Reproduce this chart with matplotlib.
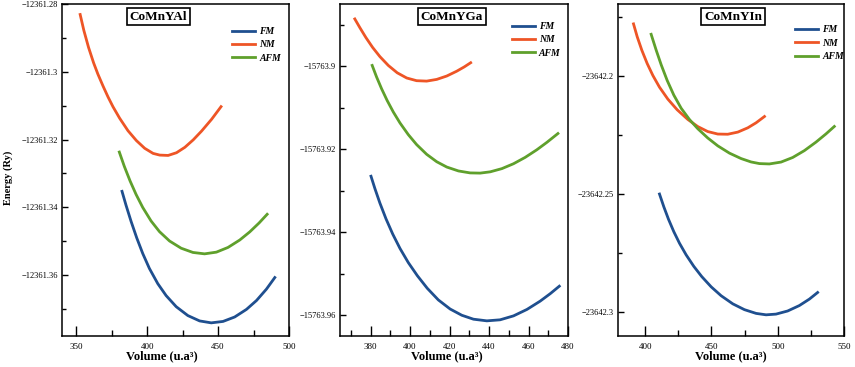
import matplotlib
matplotlib.use('Agg')
import matplotlib.pyplot as plt
from matplotlib.ticker import MultipleLocator, FuncFormatter

# colours of the three magnetic states
c_fm = '#1f4f8f'
c_nm = '#ee5526'
c_afm = '#5fa02c'

# ---- CoMnYAl ----
al_nm_v = [352.8, 355.4, 358.7, 362.3, 365.3, 368.9, 372.4, 375.9, 380.6, 386.5, 392.4, 398.3, 404.2,
           408.9, 414.8, 420.7, 426.6, 432.5, 438.4, 445.5, 452.1]
al_nm_e = [-12361.2831, -12361.2878, -12361.2928, -12361.2974, -12361.3007, -12361.3042, -12361.3074,
           -12361.3103, -12361.3137, -12361.3174, -12361.3203, -12361.3226, -12361.3241, -12361.3246,
           -12361.3247, -12361.3239, -12361.3223, -12361.3201, -12361.3175, -12361.3140, -12361.3103]
al_afm_v = [380.4, 383.9, 388.0, 392.2, 396.9, 402.8, 408.7, 415.8, 424.0, 432.3, 440.5, 448.8, 457.0,
            465.3, 472.3, 478.9, 484.6]
al_afm_e = [-12361.3237, -12361.3279, -12361.33225, -12361.3362, -12361.34005, -12361.34406, -12361.34719,
            -12361.34996, -12361.35209, -12361.35334, -12361.35375, -12361.35325, -12361.35186,
            -12361.34966, -12361.34728, -12361.34464, -12361.34207]
al_fm_v = [382.3, 385.1, 388.7, 392.7, 396.9, 401.6, 407.5, 413.4, 420.5, 428.7, 437.0, 445.2, 453.5,
           461.7, 470.0, 477.1, 484.1, 490.0]
al_fm_e = [-12361.3353, -12361.33936, -12361.34418, -12361.34906, -12361.35364, -12361.35806,
           -12361.36254, -12361.36608, -12361.36935, -12361.37197, -12361.37355, -12361.37412,
           -12361.3737, -12361.37239, -12361.37015, -12361.36752, -12361.36416, -12361.36074]

# ---- CoMnYGa ----
ga_nm_v = [372.0, 374.6, 377.6, 381.0, 384.7, 389.0, 393.5, 398.3, 403.3, 408.4, 413.5, 418.6, 423.6,
           427.4, 430.7]
ga_nm_e = [-15763.8886, -15763.89073, -15763.89307, -15763.89545, -15763.89767, -15763.89982,
           -15763.90158, -15763.90283, -15763.90348, -15763.90358, -15763.90317, -15763.90235,
           -15763.9012, -15763.90017, -15763.89915]
ga_afm_v = [380.8, 383.0, 385.6, 388.4, 391.5, 394.9, 399.1, 403.3, 408.4, 413.5, 418.6, 424.5, 430.4,
            435.5, 440.6, 446.5, 452.4, 458.3, 464.2, 469.3, 474.9]
ga_afm_e = [-15763.8998, -15763.90255, -15763.90546, -15763.90826, -15763.91102, -15763.91367,
            -15763.91648, -15763.91887, -15763.92122, -15763.92301, -15763.92429, -15763.92523,
            -15763.9257, -15763.92575, -15763.92544, -15763.92467, -15763.92349, -15763.92196,
            -15763.92013, -15763.91834, -15763.91621]
ga_fm_v = [380.2, 382.2, 384.7, 387.8, 391.2, 394.9, 399.1, 403.7, 408.7, 414.3, 420.3, 426.2, 432.1,
           438.9, 445.6, 452.4, 459.2, 465.9, 471.0, 475.6]
ga_fm_e = [-15763.9265, -15763.9295, -15763.93295, -15763.93676, -15763.94043, -15763.94391,
           -15763.94731, -15763.95048, -15763.9535, -15763.9563, -15763.9585, -15763.96, -15763.96095,
           -15763.96135, -15763.9611, -15763.96015, -15763.9586, -15763.9566, -15763.9548, -15763.953]

# ---- CoMnYIn ----
in_nm_v = [391.2, 394.0, 397.5, 401.5, 405.8, 410.8, 417.1, 424.1, 432.2, 439.7, 447.2, 454.8, 462.3,
           469.9, 477.4, 483.7, 490.0]
in_nm_e = [-23642.1781, -23642.18356, -23642.18927, -23642.19483, -23642.1999, -23642.20485,
           -23642.20989, -23642.21437, -23642.2185, -23642.2215, -23642.2236, -23642.22466,
           -23642.22474, -23642.22383, -23642.22203, -23642.21989, -23642.21724]
in_afm_v = [404.5, 408.3, 412.1, 416.6, 421.6, 427.2, 433.4, 439.7, 447.2, 454.8, 463.6, 472.4, 479.9,
            486.2, 493.7, 502.5, 511.3, 520.1, 528.9, 536.4, 542.7]
in_afm_e = [-23642.1825, -23642.18919, -23642.19542, -23642.20199, -23642.20819, -23642.21379,
            -23642.2185, -23642.22241, -23642.22631, -23642.22965, -23642.23273, -23642.23502,
            -23642.23645, -23642.23714, -23642.23729, -23642.2365, -23642.23456, -23642.23166,
            -23642.22805, -23642.2246, -23642.22145]
in_fm_v = [410.8, 414.1, 417.6, 421.6, 425.9, 430.9, 436.7, 442.7, 449.8, 457.3, 466.1, 474.9, 483.7,
           491.2, 498.7, 507.5, 516.3, 523.9, 530.1]
in_fm_e = [-23642.25, -23642.25545, -23642.26067, -23642.26591, -23642.27081, -23642.27571,
           -23642.28058, -23642.2849, -23642.28923, -23642.29298, -23642.29641, -23642.29887,
           -23642.30045, -23642.30105, -23642.30075, -23642.29943, -23642.29714, -23642.2944,
           -23642.29161]

panels = [
    dict(name='CoMnYAl', fm=(al_fm_v, al_fm_e), nm=(al_nm_v, al_nm_e), afm=(al_afm_v, al_afm_e),
         xlim=(340, 500), ylim=(-12361.378, -12361.28), xmaj=50, xmin=25, ymaj=0.02, ymin=0.01,
         pos=[62, 289], tx=0.425, leg=(0.749, 0.931), xl=0.44),
    dict(name='CoMnYGa', fm=(ga_fm_v, ga_fm_e), nm=(ga_nm_v, ga_nm_e), afm=(ga_afm_v, ga_afm_e),
         xlim=(364.5, 480), ylim=(-15763.965, -15763.885), xmaj=20, xmin=10, ymaj=0.02, ymin=0.01,
         pos=[340, 568], tx=0.49, leg=(0.753, 0.946), xl=0.467),
    dict(name='CoMnYIn', fm=(in_fm_v, in_fm_e), nm=(in_nm_v, in_nm_e), afm=(in_afm_v, in_afm_e),
         xlim=(379.5, 550), ylim=(-23642.31, -23642.1697), xmaj=50, xmin=25, ymaj=0.05, ymin=0.025,
         pos=[618, 844], tx=0.509, leg=(0.783, 0.936), xl=0.5),
]

W, H = 855, 367
fig = plt.figure(figsize=(W / 100, H / 100), dpi=100)
serif = 'Liberation Serif'


def fmt(v, p):
    s = f'{v:.10g}'
    return s.replace('-', '\u2212')


for i, p in enumerate(panels):
    l, r = p['pos']
    ax = fig.add_axes([l / W, 1 - 336 / H, (r - l) / W, (336 - 4) / H])
    ax.plot(*p['fm'], color=c_fm, lw=2, label='FM')
    ax.plot(*p['nm'], color=c_nm, lw=2, label='NM')
    ax.plot(*p['afm'], color=c_afm, lw=2, label='AFM')
    ax.set_xlim(*p['xlim'])
    ax.set_ylim(*p['ylim'])
    ax.xaxis.set_major_locator(MultipleLocator(p['xmaj']))
    ax.xaxis.set_minor_locator(MultipleLocator(p['xmin']))
    ax.yaxis.set_major_locator(MultipleLocator(p['ymaj']))
    ax.yaxis.set_minor_locator(MultipleLocator(p['ymin']))
    ax.yaxis.set_major_formatter(FuncFormatter(fmt))
    ax.tick_params(axis='x', which='major', direction='in', length=7, width=1, labelsize=6.5, pad=5)
    ax.tick_params(axis='x', which='minor', direction='in', length=4, width=1)
    ax.tick_params(axis='y', which='major', direction='in', length=4.5, width=1, labelsize=6, pad=3)
    ax.tick_params(axis='y', which='minor', direction='in', length=3, width=1)
    for lab in ax.get_xticklabels() + ax.get_yticklabels():
        lab.set_fontfamily(serif)
    for sp in ax.spines.values():
        sp.set_linewidth(1.1)
    ax.set_xlabel('Volume (u.a³)', fontfamily=serif, fontweight='bold', fontsize=9)
    ax.xaxis.set_label_coords(p['xl'], -0.042)
    if i == 0:
        ax.set_ylabel('Energy (Ry)', fontfamily=serif, fontweight='bold', fontsize=7.5)
        ax.yaxis.set_label_coords(-0.215, 0.476)
    ax.text(p['tx'], 0.962, p['name'], transform=ax.transAxes, ha='center', va='center',
            fontfamily=serif, fontweight='bold', fontsize=9.5,
            bbox=dict(boxstyle='square,pad=0.2', fc='white', ec='black', lw=1.2))
    ax.legend(loc='upper left', bbox_to_anchor=p['leg'], frameon=False, borderaxespad=0,
              prop=dict(family=serif, style='italic', weight='bold', size=7),
              handlelength=2.4, labelspacing=0.45, borderpad=0, handletextpad=0.4)

fig.savefig('out.png', dpi=100)
